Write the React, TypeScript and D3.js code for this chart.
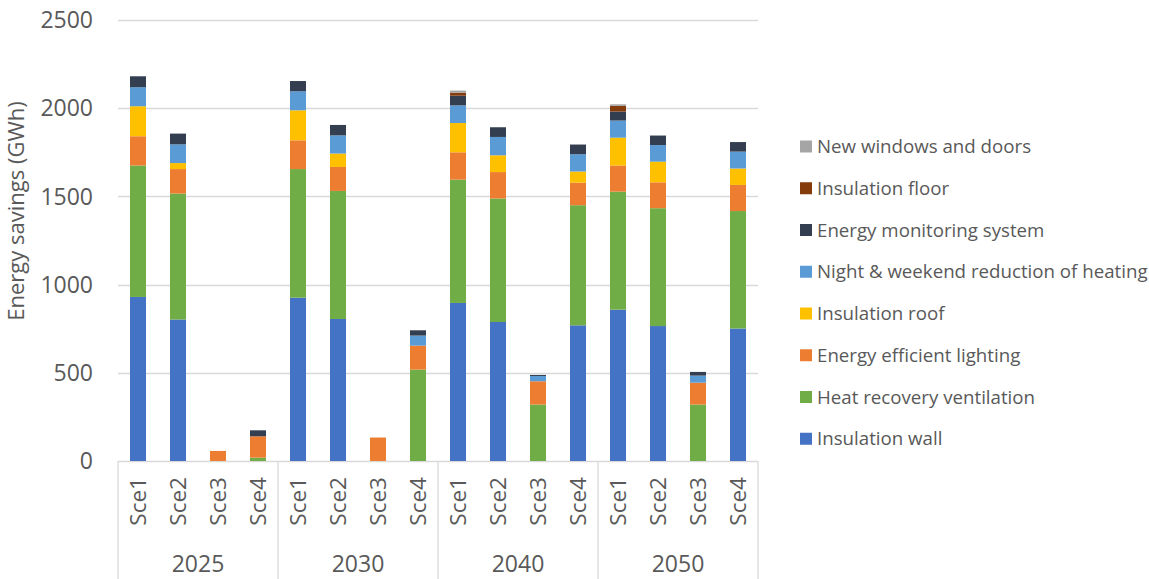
import React from "react";
import * as d3 from "d3";

const years = ["2025", "2030", "2040", "2050"];
const scenarios = ["Sce1", "Sce2", "Sce3", "Sce4"];
const yTicks = [0, 500, 1000, 1500, 2000, 2500];

const seriesNames = [
  "Insulation wall",
  "Heat recovery ventilation",
  "Energy efficient lighting",
  "Insulation roof",
  "Night & weekend reduction of heating",
  "Energy monitoring system",
  "Insulation floor",
  "New windows and doors",
];
const seriesColors = ["#4472C4", "#70AD47", "#ED7D31", "#FFC000", "#5B9BD5", "#333F50", "#843C0C", "#A5A5A5"];

// order: 2025 Sce1..Sce4, 2030 Sce1..Sce4, 2040 ..., 2050 ...
const insulationWall = [930, 802, 0, 0, 926, 805, 0, 0, 896, 788, 0, 769, 858, 765, 0, 751];
const heatRecovery = [745, 714, 0, 19, 729, 726, 0, 518, 699, 700, 320, 681, 669, 668, 320, 666];
const lighting = [166, 139, 57, 121, 163, 136, 133, 136, 155, 150, 132, 128, 148, 147, 124, 148];
const insulationRoof = [170, 34, 0, 0, 170, 76, 0, 0, 166, 95, 0, 63, 158, 117, 0, 93];
const nightWeekend = [108, 106, 0, 0, 108, 103, 0, 57, 100, 104, 30, 98, 97, 94, 40, 96];
const monitoring = [62, 61, 0, 34, 58, 59, 0, 30, 55, 55, 6, 55, 51, 54, 21, 54];
const insulationFloor = [0, 0, 0, 0, 0, 0, 0, 0, 17, 0, 0, 0, 32, 0, 0, 0];
const windowsDoors = [0, 0, 0, 0, 0, 0, 0, 0, 12, 0, 0, 3, 9, 0, 0, 0];

const seriesValues = [insulationWall, heatRecovery, lighting, insulationRoof, nightWeekend, monitoring, insulationFloor, windowsDoors];

const W = 1149;
const H = 579;
const FONT = "'Open Sans', 'Noto Sans', sans-serif";
const TEXT = "#595959";
const GRID = "#D9D9D9";

export default function App() {
  const left = 118;
  const right = 758;
  const top = 20;
  const bottom = 461;

  const cats = years.flatMap((y) => scenarios.map((s) => `${y}|${s}`));
  const table = cats.map((c, i) => {
    const row: Record<string, any> = { key: c };
    seriesNames.forEach((n, k) => (row[n] = seriesValues[k][i]));
    return row;
  });
  const stacked = d3.stack<any>().keys(seriesNames)(table);

  const x = d3.scaleBand<string>().domain(cats).range([left, right]).paddingInner(0.6).paddingOuter(0.3);
  const y = d3.scaleLinear().domain([0, 2500]).range([bottom, top]);
  const step = x.step();
  const groupW = step * scenarios.length;

  const legendOrder = [...seriesNames.keys()].reverse();

  return (
    <svg width={W} height={H} style={{ position: "absolute", left: 0, top: 0, background: "#fff" }} fontFamily={FONT}>
      {yTicks.map((t) => (
        <g key={t}>
          <line x1={left} x2={right} y1={Math.round(y(t)) + 0.5} y2={Math.round(y(t)) + 0.5} stroke={GRID} strokeWidth={1.3} />
          <text x={93} y={y(t)} dy="0.36em" textAnchor="end" fontSize={23} fill={TEXT}>
            {t}
          </text>
        </g>
      ))}
      {d3.range(years.length + 1).map((i) => (
        <line key={i} x1={left + i * groupW} x2={left + i * groupW} y1={bottom} y2={H} stroke={GRID} strokeWidth={1.3} />
      ))}
      {stacked.map((s, k) => (
        <g key={s.key} fill={seriesColors[k]}>
          {s.map((d, i) =>
            d[1] - d[0] > 0 ? (
              <rect key={i} x={x(cats[i])} width={x.bandwidth()} y={y(d[1])} height={y(d[0]) - y(d[1])} />
            ) : null
          )}
        </g>
      ))}
      {cats.map((c, i) => {
        const cx = (x(c) as number) + x.bandwidth() / 2;
        return (
          <text key={c} transform={`translate(${cx + 8},${477}) rotate(-90)`} textAnchor="end" fontSize={22.5} fill={TEXT}>
            {scenarios[i % scenarios.length]}
          </text>
        );
      })}
      {years.map((yr, i) => (
        <text key={yr} x={left + i * groupW + groupW / 2} y={572} textAnchor="middle" fontSize={23} fill={TEXT}>
          {yr}
        </text>
      ))}
      <text transform={`translate(24,211) rotate(-90)`} textAnchor="middle" fontSize={22} fill={TEXT}>
        Energy savings (GWh)
      </text>
      {legendOrder.map((k, j) => {
        const ly = 146.5 + j * 41.75;
        return (
          <g key={k}>
            <rect x={800} y={ly - 6} width={12} height={12} fill={seriesColors[k]} />
            <text x={817} y={ly} dy="0.36em" fontSize={18.7} fill={TEXT}>
              {seriesNames[k]}
            </text>
          </g>
        );
      })}
    </svg>
  );
}
